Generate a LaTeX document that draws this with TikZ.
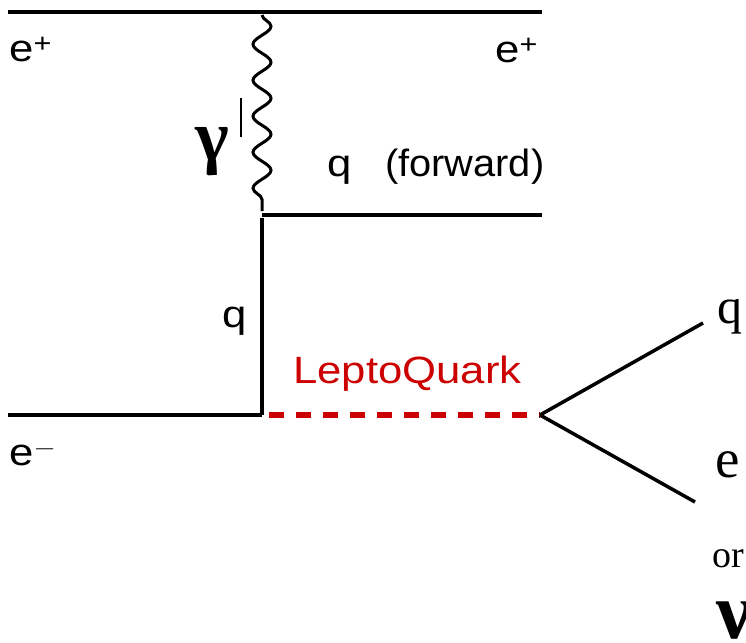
\documentclass[tikz,border=0pt]{standalone}
\usepackage{fontspec}
\setmainfont{Liberation Serif}
\newfontfamily\labelfont{Liberation Sans}
\usetikzlibrary{decorations.pathmorphing}
\definecolor{lqred}{RGB}{204,0,0}

\begin{document}
\begin{tikzpicture}[x=1pt, y=-1pt,
    fermion/.style={line width=4pt},
    decayline/.style={line width=3.5pt},
    photon/.style={line width=3pt, decorate,
      decoration={snake, amplitude=9pt, segment length=36pt}},
    lqline/.style={line width=6pt, lqred, dash pattern=on 15pt off 12pt},
    sanslabel/.style={font=\labelfont\fontsize{38}{40}\selectfont,
      inner sep=0pt, anchor=base west, xscale=1.15},
    seriflabel/.style={inner sep=0pt, anchor=base west}]
  \useasboundingbox (0,0) rectangle (746,642);

  % Coordinates
  \coordinate (Etl) at (8,12);
  \coordinate (Etr) at (542,12);
  \coordinate (Gtop) at (262,15);
  \coordinate (Gbot) at (262,211);
  \coordinate (Qfl) at (262,215);
  \coordinate (Qfr) at (542,215);
  \coordinate (Qtop) at (262,218);
  \coordinate (V) at (262,415);
  \coordinate (Ebl) at (8,415);
  \coordinate (LQ) at (540,415);
  \coordinate (Qout) at (703,323);
  \coordinate (Eout) at (695,502);
  \coordinate (Tktop) at (241,98);
  \coordinate (Tkbot) at (241,137);

  % Incoming and outgoing lines
  \draw[fermion] (Etl) -- (Etr);
  \draw[photon] (Gtop) -- (Gbot);
  \draw[line width=1.2pt] (Tktop) -- (Tkbot);
  \draw[fermion] (Qfl) -- (Qfr);
  \draw[fermion] (Qtop) -- (V);
  \draw[fermion] (Ebl) -- (V);
  \draw[lqline, shorten <=7pt] (V) -- (LQ);

  % Decay products
  \draw[decayline] (LQ) -- (Qout);
  \draw[decayline] (LQ) -- (Eout);

  % Labels
  \node[sanslabel] (eplusL) at (9,62) {e\textsuperscript{+}};
  \node[sanslabel] (eplusR) at (495,63) {e\textsuperscript{+}};
  \node[sanslabel] (qfwd) at (327,176) {q};
  \node[sanslabel, xscale=0.91] (fwd) at (385,176) {(forward)};
  \node[sanslabel] (qex) at (222,327) {q};
  \node[sanslabel, text=lqred] (lqlab) at (293,383) {LeptoQuark};
  \node[sanslabel] (eminus) at (9,465) {e$^{-}$};
  \node[seriflabel, font=\bfseries\fontsize{72}{74}\selectfont] (gam) at (195,160) {γ};

  \node[seriflabel, font=\fontsize{50}{52}\selectfont] (qdec) at (717,323) {q};
  \node[seriflabel, font=\fontsize{55}{57}\selectfont] (edec) at (715,477) {e};
  \node[seriflabel, font=\fontsize{38}{40}\selectfont] (ordec) at (712,567) {or};
  \node[seriflabel, font=\bfseries\fontsize{80}{82}\selectfont] (nudec) at (716,638) {ν};
\end{tikzpicture}
\end{document}
